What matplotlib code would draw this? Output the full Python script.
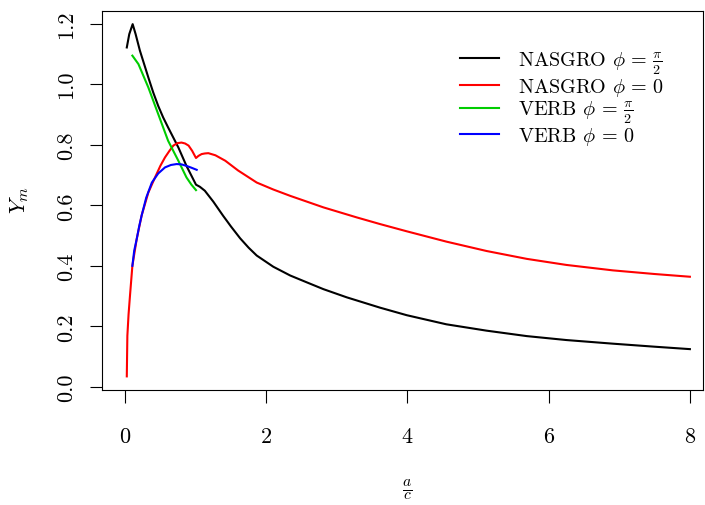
import matplotlib
matplotlib.use("Agg")
import matplotlib.pyplot as plt

plt.rcParams['font.family'] = ['cmr10', 'DejaVu Serif']
plt.rcParams['mathtext.fontset'] = 'cm'
plt.rcParams['axes.formatter.use_mathtext'] = True

# NASGRO phi = pi/2
nas_pi2_x = [0.025, 0.06, 0.108, 0.15, 0.21, 0.33, 0.40, 0.47, 0.54, 0.61, 0.755, 0.87, 1.005,
             1.06, 1.13, 1.25, 1.39, 1.45, 1.50, 1.63, 1.75, 1.865, 2.10, 2.34, 2.60, 2.81, 3.14,
             3.61, 3.99, 4.55, 5.12, 5.69, 6.25, 6.91, 7.50, 8.00]
nas_pi2_y = [1.121, 1.165, 1.198, 1.165, 1.111, 1.022, 0.972, 0.928, 0.890, 0.857, 0.791, 0.730, 0.668,
             0.661, 0.648, 0.612, 0.565, 0.546, 0.530, 0.491, 0.460, 0.434, 0.397, 0.368, 0.343, 0.323, 0.296,
             0.262, 0.237, 0.207, 0.186, 0.168, 0.155, 0.143, 0.133, 0.125]

# NASGRO phi = 0
nas_0_x = [0.025, 0.033, 0.05, 0.07, 0.104, 0.165, 0.236, 0.33, 0.425, 0.50, 0.566, 0.63, 0.684,
           0.74, 0.80, 0.85, 0.90, 0.95, 1.005, 1.04, 1.085, 1.13, 1.18, 1.28, 1.42, 1.60,
           1.865, 2.10, 2.34, 2.81, 3.28, 3.61, 3.99, 4.55, 5.12, 5.69, 6.25, 6.91, 7.50, 8.00]
nas_0_y = [0.035, 0.169, 0.24, 0.301, 0.40, 0.488, 0.567, 0.642, 0.692, 0.730, 0.758, 0.780, 0.797,
           0.805, 0.807, 0.804, 0.797, 0.780, 0.756, 0.763, 0.769, 0.771, 0.772, 0.765, 0.747, 0.715,
           0.675, 0.652, 0.631, 0.593, 0.560, 0.538, 0.514, 0.480, 0.449, 0.423, 0.403, 0.385, 0.373, 0.364]

# VERB phi = pi/2
verb_pi2_x = [0.104, 0.19, 0.33, 0.47, 0.61, 0.755, 0.87, 0.94, 1.005]
verb_pi2_y = [1.094, 1.066, 0.989, 0.901, 0.813, 0.747, 0.692, 0.668, 0.650]

# VERB phi = 0
verb_0_x = [0.104, 0.13, 0.165, 0.20, 0.236, 0.30, 0.38, 0.47, 0.566, 0.65, 0.73, 0.80, 0.87, 0.94, 1.015]
verb_0_y = [0.40, 0.45, 0.488, 0.530, 0.567, 0.625, 0.675, 0.705, 0.725, 0.733, 0.736, 0.735, 0.730, 0.724, 0.717]

fig = plt.figure(figsize=(7.05, 5.06), dpi=100)
ax = fig.add_axes([0.1447, 0.2273, 0.997 - 0.1447, 0.976 - 0.2273])

lw = 1.5
ax.plot(nas_pi2_x, nas_pi2_y, color='black', lw=lw, label=r'NASGRO $\phi\,=\,\frac{\pi}{2}$')
ax.plot(nas_0_x, nas_0_y, color='#ff0000', lw=lw, label=r'NASGRO $\phi\,=\,0$')
ax.plot(verb_pi2_x, verb_pi2_y, color='#00cd00', lw=lw, label=r'VERB $\phi\,=\,\frac{\pi}{2}$')
ax.plot(verb_0_x, verb_0_y, color='#0000ff', lw=lw, label=r'VERB $\phi\,=\,0$')

ax.set_xlim(-0.326, 8.184)
ax.set_ylim(-0.0099, 1.2409)
ax.set_xticks([0, 2, 4, 6, 8])
ax.set_yticks([0.0, 0.2, 0.4, 0.6, 0.8, 1.0, 1.2])
ax.set_yticklabels(['0.0', '0.2', '0.4', '0.6', '0.8', '1.0', '1.2'], rotation=90, va='center')
ax.tick_params(direction='out', length=9, width=0.8, labelsize=16)
ax.tick_params(axis='x', pad=17)
ax.tick_params(axis='y', pad=9.5)
for s in ax.spines.values():
    s.set_linewidth(0.8)

fig.text(20 / 705, 1 - 200 / 506, r'$Y_m$', rotation=90, ha='center', va='center', fontsize=16)
fig.text(407 / 705, 1 - 490 / 506, r'$\frac{a}{c}$', ha='center', va='center', fontsize=16)

leg = ax.legend(loc='upper left', bbox_to_anchor=(0.579, 0.928), frameon=False, fontsize=14.5,
                borderpad=0, handlelength=1.95, handletextpad=0.95, labelspacing=0.0)

fig.savefig('out.png', dpi=100)
